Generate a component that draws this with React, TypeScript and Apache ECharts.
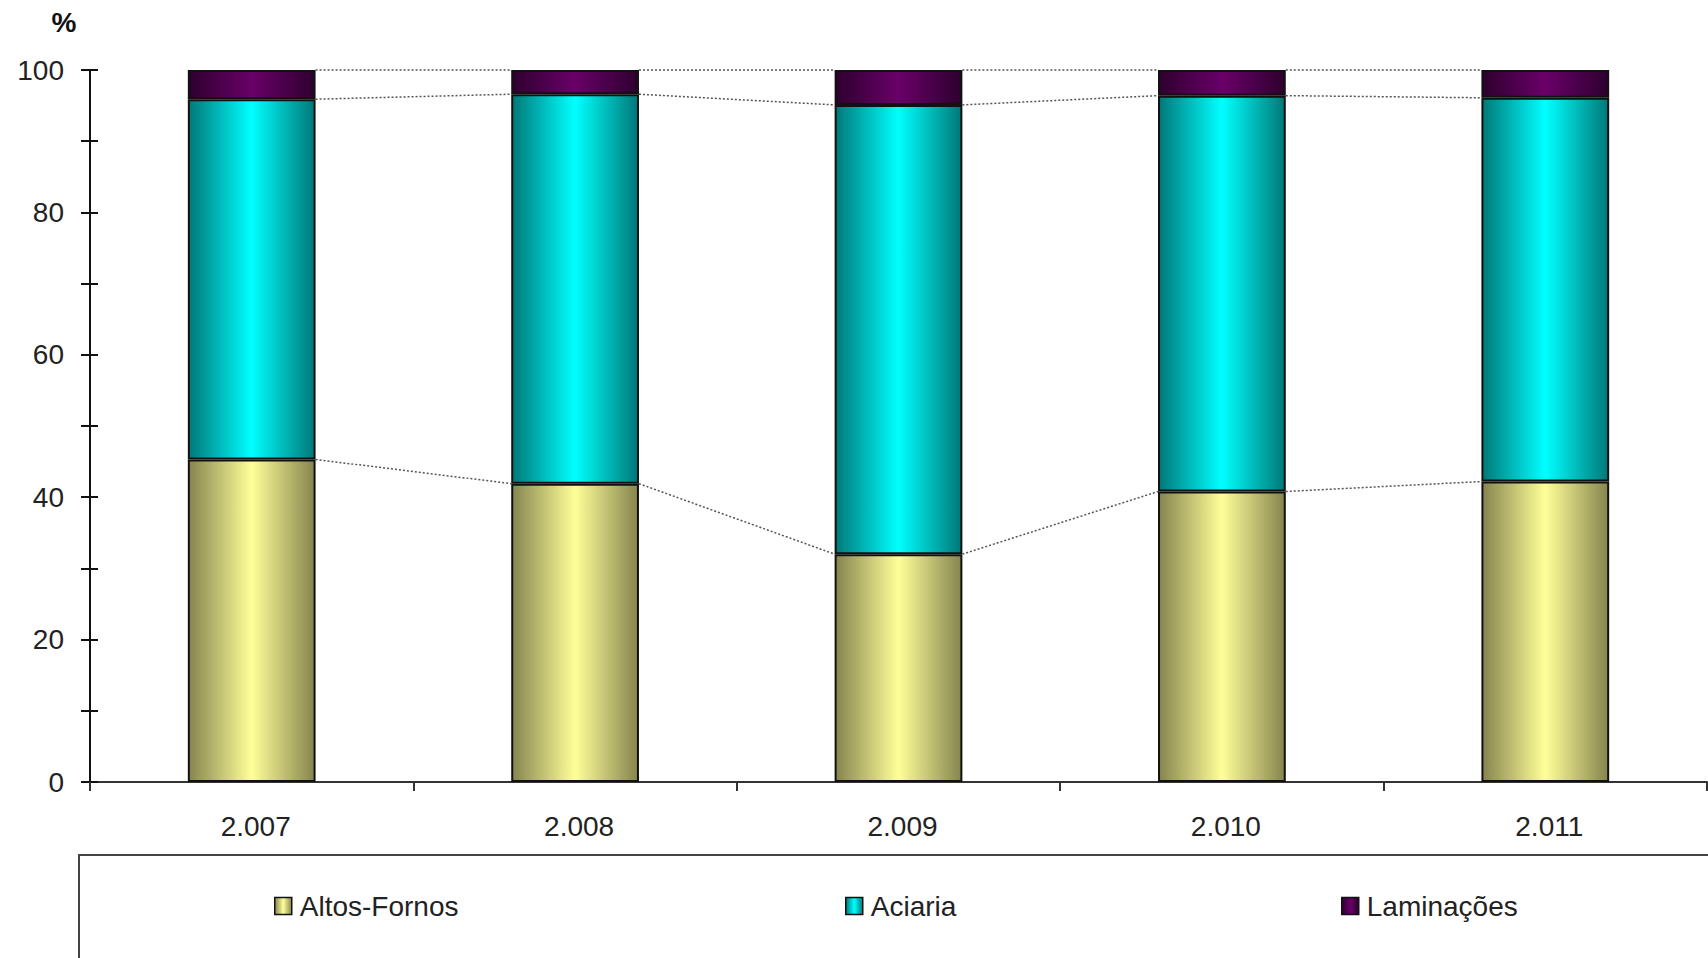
import React, { useEffect, useRef } from "react";
import * as echarts from "echarts";

const categories = ["2.007", "2.008", "2.009", "2.010", "2.011"];
const altosFornos = [45.3, 41.9, 32.0, 40.8, 42.2];
const aciaria = [50.6, 54.7, 63.1, 55.6, 53.9];
const laminacoes = [4.1, 3.4, 4.9, 3.6, 3.9];
const seriesNames = ["Altos-Fornos", "Aciaria", "Laminações"];
const yTicks = [0, 20, 40, 60, 80, 100];

const BAR_RATIO = 0.395;
const FONT = "'Liberation Sans', Arial, sans-serif";

function grad(edge: string, mid: string) {
  return new echarts.graphic.LinearGradient(0, 0, 1, 0, [
    { offset: 0, color: edge },
    { offset: 0.5, color: mid },
    { offset: 1, color: edge },
  ]);
}

export default function App() {
  const ref = useRef<HTMLDivElement>(null);
  useEffect(() => {
    document.body.style.margin = "0";
    document.body.style.overflow = "hidden";
    const chart = echarts.init(ref.current!, null, { renderer: "svg" });

    const seriesData = [altosFornos, aciaria, laminacoes];
    const cum: number[][] = [];
    let running = categories.map(() => 0);
    seriesData.forEach((arr) => {
      running = running.map((r, i) => +(r + arr[i]).toFixed(2));
      cum.push(running.slice());
    });
    const lineData: number[][] = [];
    cum.forEach((level) => {
      for (let i = 0; i < categories.length - 1; i++) {
        lineData.push([i, level[i], level[i + 1]]);
      }
    });

    const colors = [
      grad("#85854f", "#ffff99"),
      grad("#007878", "#00ffff"),
      grad("#2e002e", "#690069"),
    ];

    const barSeries = seriesData.map((d, k) => ({
      name: seriesNames[k],
      type: "bar",
      stack: "total",
      barWidth: BAR_RATIO * 100 + "%",
      data: d,
      itemStyle: { color: colors[k], borderColor: "#111", borderWidth: 2 },
    }));

    const legendPos = [274, 845, 1341];
    const legends = seriesNames.map((n, k) => ({
      data: [n],
      left: legendPos[k],
      top: 892,
      padding: 0,
      itemWidth: 17,
      itemHeight: 17,
      itemGap: 6,
      icon: "rect",
      itemStyle: { borderColor: "#111", borderWidth: 1.5 },
      textStyle: { fontFamily: FONT, fontSize: 28, color: "#222", padding: [0, 0, 0, 3] },
      selectedMode: false,
    }));

    chart.setOption({
      animation: false,
      backgroundColor: "#fff",
      grid: { left: 90, right: 1, top: 70, bottom: 176 },
      legend: legends,
      graphic: [
        {
          type: "rect",
          shape: { x: 79, y: 855, width: 1700, height: 130 },
          style: { fill: "none", stroke: "#444", lineWidth: 2 },
        },
        {
          type: "text",
          x: 64,
          y: 22,
          style: {
            text: "%",
            font: "bold 28px " + FONT,
            fill: "#111",
            textAlign: "center",
            textVerticalAlign: "middle",
          },
        },
      ],
      xAxis: {
        type: "category",
        data: categories,
        boundaryGap: true,
        axisLine: { lineStyle: { color: "#333", width: 2 } },
        axisTick: { show: true, length: 9, lineStyle: { color: "#333", width: 2 } },
        axisLabel: { fontFamily: FONT, fontSize: 28, color: "#222", margin: 30, padding: [0, 0, 0, 8] },
        splitLine: { show: false },
      },
      yAxis: [
        {
          type: "value",
          position: "left",
          min: 0,
          max: 100,
          interval: 10,
          axisLine: { show: true, lineStyle: { color: "#111", width: 2 } },
          axisTick: { show: true, length: 9, lineStyle: { color: "#111", width: 2 } },
          axisLabel: {
            fontFamily: FONT,
            fontSize: 28,
            color: "#222",
            margin: 26,
            formatter: (v: number) => (yTicks.indexOf(v) >= 0 ? String(v) : ""),
          },
          splitLine: { show: false },
        },
        {
          type: "value",
          position: "left",
          min: 0,
          max: 100,
          interval: 10,
          axisLine: { show: false },
          axisTick: { show: true, inside: true, length: 8, lineStyle: { color: "#111", width: 2 } },
          axisLabel: { show: false },
          splitLine: { show: false },
        },
      ],
      series: [
        ...barSeries,
        {
          type: "custom",
          name: "seriesLines",
          data: lineData,
          encode: { x: 0, y: 1 },
          z: 5,
          renderItem: (params: any, api: any) => {
            const i = api.value(0);
            const p1 = api.coord([i, api.value(1)]);
            const p2 = api.coord([i + 1, api.value(2)]);
            const half = (api.size([1, 0])[0] * BAR_RATIO) / 2;
            return {
              type: "line",
              shape: { x1: p1[0] + half, y1: p1[1], x2: p2[0] - half, y2: p2[1] },
              style: { stroke: "#555", lineWidth: 1.5, lineDash: [2, 2], fill: null },
            };
          },
        },
      ],
    });
    return () => chart.dispose();
  }, []);
  return <div ref={ref} style={{ width: 1708, height: 958 }} />;
}
